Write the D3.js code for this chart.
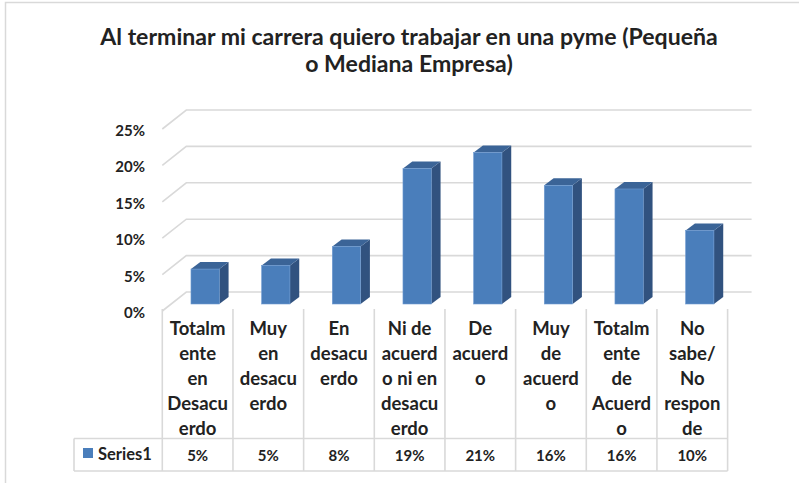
<!DOCTYPE html>
<html>
<head>
<meta charset="utf-8">
<script src="https://cdn.jsdelivr.net/npm/d3@7"></script>
<style>
  body { margin: 0; background: #fff; }
  svg { display: block; font-family: Lato, "Open Sans", sans-serif; }
</style>
</head>
<body>
<div id="chart"></div>
<script>
// chart data
var titleLines = ['Al terminar mi carrera quiero trabajar en una pyme (Pequeña', 'o Mediana Empresa)'];
var categories = [
    ['Totalm', 'ente', 'en', 'Desacu', 'erdo'],
    ['Muy', 'en', 'desacu', 'erdo'],
    ['En', 'desacu', 'erdo'],
    ['Ni de', 'acuerd', 'o ni en', 'desacu', 'erdo'],
    ['De', 'acuerd', 'o'],
    ['Muy', 'de', 'acuerd', 'o'],
    ['Totalm', 'ente', 'de', 'Acuerd', 'o'],
    ['No', 'sabe/', 'No', 'respon', 'de']
];
var values = [0.048, 0.053, 0.079, 0.186, 0.208, 0.163, 0.158, 0.101];
var seriesName = 'Series1';
var yTicks = [0, 0.05, 0.10, 0.15, 0.20, 0.25];

var W = 799, H = 483;
var depth = {x: 24, y: -19};          // floor depth (front -> back wall)
var barShift = {x: 7.5, y: -7};       // bar front face relative to floor front
var barDepth = {x: 9.3, y: -7};       // bar thickness
var colors = {front: '#4a7ebb', side: '#31527f', top: '#3b6497', edge: '#6f9bd1',
              grid: '#d9d9d9', text: '#222'};

var svg = d3.select('#chart').append('svg').attr('width', W).attr('height', H);

// outer frame
svg.append('rect').attr('x', 5.5).attr('y', 2.5).attr('width', 820).attr('height', 500)
    .attr('fill', 'none').attr('stroke', colors.grid).attr('stroke-width', 1.5);

// title
var title = svg.append('text').attr('text-anchor', 'middle').attr('font-weight', 'bold')
    .attr('fill', colors.text).attr('font-size', 20);
titleLines.forEach(function(t, i) {
    title.append('tspan').attr('x', 409).attr('y', 45 + i * 27).text(t);
});
// fit the first line to its width in the picture
var first = title.select('tspan').node();
var fs = 20 * 618 / first.getComputedTextLength();
title.attr('font-size', fs);

var x = d3.scaleBand().domain(d3.range(categories.length)).range([162.3, 727.6]).padding(0);
var y = d3.scaleLinear().domain([0, 0.25]).range([292, 110]); // back wall

var xFront = x.range()[0], xEnd = x.range()[1] + depth.x;

// gridlines on the back wall + left side wall
var grid = svg.append('g').attr('stroke', colors.grid).attr('stroke-width', 1.6).attr('fill', 'none');
yTicks.forEach(function(t) {
    var yb = y(t);
    grid.append('path').attr('d', 'M' + xFront + ',' + (yb - depth.y) + 'L' + (xFront + depth.x) + ',' + yb + 'H' + xEnd);
});

// y axis labels
svg.append('g').selectAll('text').data(yTicks).join('text')
    .attr('x', 145).attr('y', function(d) { return y(d) - depth.y + 1; })
    .attr('text-anchor', 'end').attr('dominant-baseline', 'central')
    .attr('font-size', 15).attr('font-weight', 'bold').attr('fill', colors.text)
    .text(d3.format('.0%'));

// 3d bars
var barW = 28.3;
var bars = svg.append('g').selectAll('g').data(values).join('g');
bars.each(function(v, i) {
    var g = d3.select(this);
    var x0 = x(i) + (x.bandwidth() - barW) / 2 + barShift.x;
    var y0 = y(0) - depth.y + barShift.y;
    var yt = y0 - (y(0) - y(v));
    var x1 = x0 + barW;
    var dx = barDepth.x, dy = barDepth.y;
    g.append('path').attr('fill', colors.side)
        .attr('d', 'M' + x1 + ',' + y0 + 'L' + (x1 + dx) + ',' + (y0 + dy) + 'L' + (x1 + dx) + ',' + (yt + dy) + 'L' + x1 + ',' + yt + 'Z');
    g.append('path').attr('fill', colors.top)
        .attr('d', 'M' + x0 + ',' + yt + 'L' + (x0 + dx) + ',' + (yt + dy) + 'L' + (x1 + dx) + ',' + (yt + dy) + 'L' + x1 + ',' + yt + 'Z');
    g.append('rect').attr('x', x0).attr('y', yt).attr('width', barW).attr('height', y0 - yt)
        .attr('fill', colors.front).attr('stroke', colors.edge).attr('stroke-width', 0.6);
});

// data table
var tTop = 309, tMid = 438.5, tBot = 471, legX = 74;
var table = svg.append('g').attr('stroke', colors.grid).attr('stroke-width', 1.6);
d3.range(categories.length + 1).forEach(function(i) {
    var xx = i < categories.length ? x(i) : x.range()[1];
    table.append('line').attr('x1', xx).attr('x2', xx).attr('y1', tTop).attr('y2', tBot);
});
table.append('line').attr('x1', legX).attr('x2', x.range()[1]).attr('y1', tMid).attr('y2', tMid);
table.append('line').attr('x1', legX).attr('x2', x.range()[1]).attr('y1', tBot).attr('y2', tBot);
table.append('line').attr('x1', legX).attr('x2', legX).attr('y1', tMid).attr('y2', tBot);

var catText = svg.append('g').attr('font-size', 18.5).attr('font-weight', 'bold')
    .attr('fill', colors.text).attr('text-anchor', 'middle');
categories.forEach(function(lines, i) {
    lines.forEach(function(l, j) {
        catText.append('text').attr('x', x(i) + x.bandwidth() / 2).attr('y', 328 + j * 25)
            .attr('dominant-baseline', 'central').text(l);
    });
});

svg.append('g').selectAll('text').data(values).join('text')
    .attr('x', function(d, i) { return x(i) + x.bandwidth() / 2; }).attr('y', 455)
    .attr('text-anchor', 'middle').attr('dominant-baseline', 'central')
    .attr('font-size', 15).attr('font-weight', 'bold').attr('fill', colors.text)
    .text(d3.format('.0%'));

// legend key
svg.append('rect').attr('x', 83).attr('y', 448).attr('width', 10).attr('height', 10).attr('fill', colors.front);
svg.append('text').attr('x', 98).attr('y', 454).attr('dominant-baseline', 'central')
    .attr('font-size', 16.5).attr('font-weight', 'bold').attr('fill', colors.text).text(seriesName);
</script>
</body>
</html>
